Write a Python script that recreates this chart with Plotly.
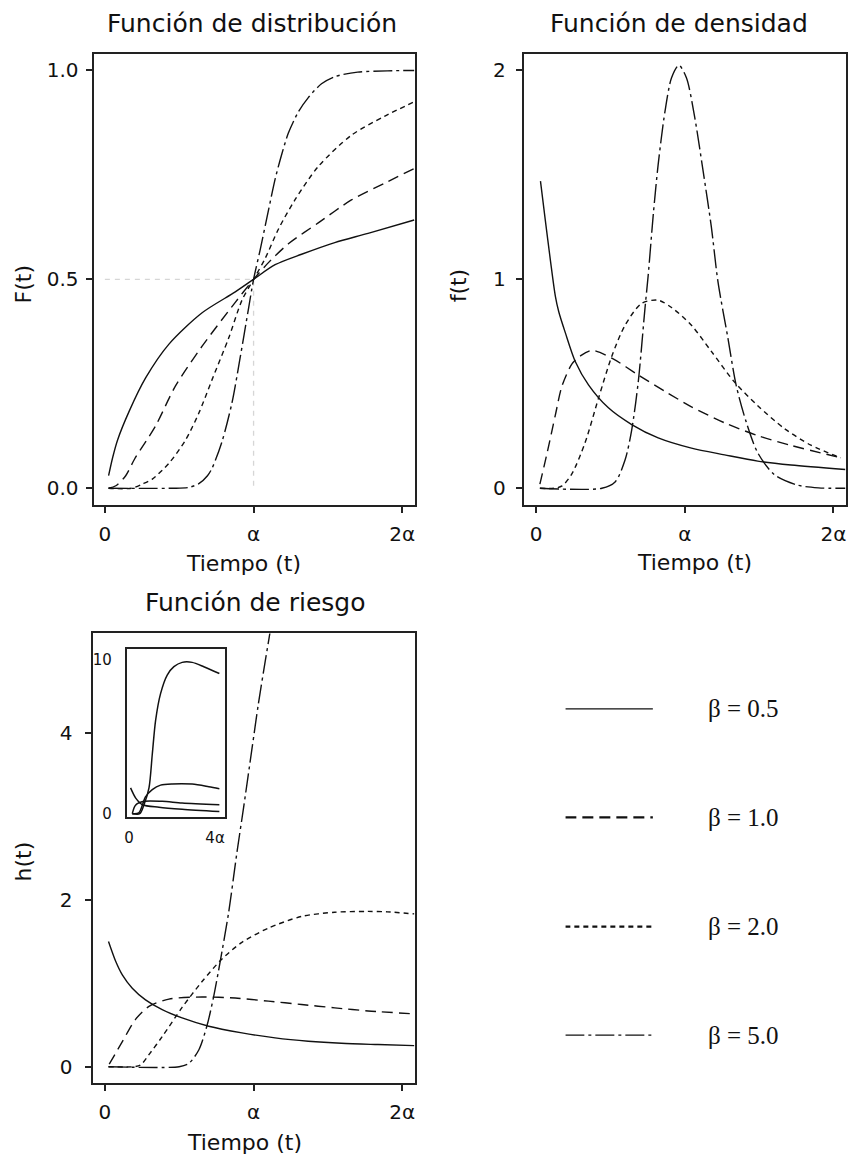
import plotly.graph_objects as go

# ---------------- data ----------------
betas = ["0.5", "1.0", "2.0", "5.0"]
x_tickvals = [0, 1, 2]
x_ticktext = ["0", "α", "2α"]

# Función de distribución F(t)
F_t_b05 = [0.025, 0.052, 0.085, 0.163, 0.274, 0.431, 0.654, 0.877, 1.0, 1.145, 1.323, 1.546, 1.77, 2.08]
F_b05 = [0.03, 0.073, 0.115, 0.184, 0.264, 0.345, 0.42, 0.47, 0.5, 0.535, 0.56, 0.588, 0.61, 0.642]
F_t_b1 = [0.025, 0.074, 0.14, 0.2, 0.342, 0.475, 0.654, 0.877, 1.0, 1.1, 1.234, 1.435, 1.658, 1.88, 2.08]
F_b1 = [0.0, 0.006, 0.03, 0.07, 0.15, 0.245, 0.34, 0.445, 0.5, 0.54, 0.585, 0.635, 0.69, 0.73, 0.765]
F_t_b2 = [0.025, 0.18, 0.252, 0.319, 0.431, 0.542, 0.632, 0.721, 0.833, 0.922, 1.0, 1.078, 1.167, 1.278, 1.435, 1.658, 1.88, 2.08]
F_b2 = [0.0, 0.0, 0.01, 0.022, 0.06, 0.115, 0.18, 0.26, 0.36, 0.45, 0.5, 0.55, 0.62, 0.69, 0.77, 0.845, 0.89, 0.925]
F_t_b5 = [0.025, 0.45, 0.565, 0.632, 0.69, 0.721, 0.788, 0.855, 0.91, 0.966, 1.0, 1.044, 1.1, 1.145, 1.19, 1.234, 1.30, 1.368, 1.457, 1.546, 1.7, 1.9, 2.08]
F_b5 = [0.0, 0.0, 0.002, 0.011, 0.03, 0.048, 0.112, 0.205, 0.313, 0.43, 0.5, 0.57, 0.665, 0.74, 0.8, 0.85, 0.9, 0.935, 0.968, 0.985, 0.996, 0.999, 1.0]
ref_x = [0.0, 1.0, 1.0]
ref_y = [0.5, 0.5, 0.0]

# Función de densidad f(t)
f_t_b05 = [0.029, 0.062, 0.096, 0.129, 0.152, 0.196, 0.263, 0.352, 0.486, 0.643, 0.821, 1.045, 1.268, 1.491, 1.715, 2.08]
f_b05 = [1.47, 1.28, 1.09, 0.92, 0.845, 0.745, 0.607, 0.495, 0.385, 0.305, 0.241, 0.192, 0.16, 0.13, 0.111, 0.09]
f_t_b1 = [0.025, 0.074, 0.129, 0.174, 0.241, 0.3, 0.375, 0.509, 0.687, 0.866, 1.045, 1.268, 1.491, 1.715, 2.05]
f_b1 = [0.02, 0.17, 0.35, 0.49, 0.595, 0.635, 0.66, 0.623, 0.542, 0.464, 0.39, 0.313, 0.252, 0.205, 0.146]
f_t_b2 = [0.025, 0.12, 0.174, 0.241, 0.33, 0.419, 0.509, 0.598, 0.71, 0.821, 0.911, 1.045, 1.179, 1.335, 1.491, 1.67, 1.849, 2.05]
f_b2 = [0.0, 0.0, 0.011, 0.07, 0.22, 0.43, 0.632, 0.78, 0.885, 0.9, 0.865, 0.78, 0.655, 0.508, 0.395, 0.286, 0.206, 0.146]
f_t_b5 = [0.025, 0.442, 0.531, 0.598, 0.643, 0.687, 0.732, 0.754, 0.788, 0.821, 0.866, 0.911, 0.96, 1.011, 1.067, 1.123, 1.179, 1.223, 1.29, 1.346, 1.413, 1.491, 1.603, 1.759, 1.9, 2.08]
f_b5 = [0.0, 0.0, 0.03, 0.135, 0.28, 0.51, 0.86, 1.02, 1.31, 1.55, 1.8, 1.965, 2.025, 1.965, 1.775, 1.52, 1.25, 0.99, 0.72, 0.492, 0.318, 0.17, 0.065, 0.015, 0.002, 0.0]

# Función de riesgo h(t)
h_t_b05 = [0.025, 0.074, 0.118, 0.185, 0.274, 0.386, 0.52, 0.699, 0.922, 1.145, 1.368, 1.591, 1.837, 2.08]
h_b05 = [1.5, 1.26, 1.1, 0.94, 0.8, 0.683, 0.584, 0.484, 0.405, 0.345, 0.305, 0.28, 0.265, 0.252]
h_t_b1 = [0.03, 0.118, 0.208, 0.297, 0.431, 0.654, 0.877, 1.1, 1.323, 1.546, 1.77, 2.08]
h_b1 = [0.03, 0.3, 0.57, 0.722, 0.81, 0.835, 0.822, 0.785, 0.745, 0.705, 0.668, 0.633]
h_t_b2 = [0.025, 0.2, 0.241, 0.297, 0.386, 0.52, 0.654, 0.788, 0.922, 1.1, 1.323, 1.546, 1.77, 1.9, 2.08]
h_b2 = [0.0, 0.0, 0.02, 0.145, 0.36, 0.71, 1.02, 1.29, 1.49, 1.66, 1.8, 1.85, 1.86, 1.855, 1.83]
h_t_b5 = [0.025, 0.5, 0.565, 0.632, 0.687, 0.732, 0.777, 0.833, 0.888, 0.933, 0.989, 1.033, 1.078, 1.118, 1.14]
h_b5 = [0.0, 0.0, 0.04, 0.2, 0.49, 0.84, 1.27, 1.85, 2.56, 3.1, 3.8, 4.35, 4.85, 5.28, 5.55]

# Inset: h(t) on 0..4α
ins_tickvals_x = [0, 4]
ins_ticktext_x = ["0", "4α"]
ins_tickvals_y = [0, 10]
ins_t_b05 = [0.07, 0.31, 0.62, 1.39, 2.47, 4.2]
ins_h_b05 = [1.67, 1.01, 0.58, 0.42, 0.29, 0.14]
ins_t_b1 = [0.15, 0.3, 0.695, 1.54, 2.47, 4.2]
ins_h_b1 = [0.0, 0.55, 0.8, 0.8, 0.69, 0.58]
ins_t_b2 = [0.15, 0.45, 0.77, 1.08, 1.465, 2.007, 2.934, 3.708, 4.2]
ins_h_b2 = [0.0, 0.05, 1.1, 1.56, 1.85, 1.93, 1.92, 1.75, 1.62]
ins_t_b5 = [0.15, 0.5, 0.695, 0.927, 1.08, 1.233, 1.465, 1.775, 2.086, 2.47, 2.934, 3.476, 4.2]
ins_h_b5 = [0.0, 0.0, 0.58, 1.67, 3.85, 6.03, 7.78, 8.98, 9.52, 9.8, 9.8, 9.52, 9.08]

# ---------------- styling ----------------
W, H = 850, 1165
def px(X):
    return X / W
def py(Y):
    return 1 - Y / H

FONT = "DejaVu Sans"
INK = "#111111"
dashes = {"0.5": "solid", "1.0": "11px,6px", "2.0": "5px,4px", "5.0": "19px,4px,3px,4px"}
LW = 1.4

fig = go.Figure()

def add_line(x, y, beta, xa, ya, dash=None, color=INK, width=LW):
    fig.add_trace(go.Scatter(
        x=x, y=y, mode="lines", xaxis=xa, yaxis=ya, showlegend=False,
        hoverinfo="skip",
        line=dict(color=color, width=width, dash=dash if dash else dashes[beta],
                  shape="spline", smoothing=0.8)))

# panel 1
fig.add_trace(go.Scatter(x=ref_x, y=ref_y, mode="lines", xaxis="x", yaxis="y",
                         showlegend=False, hoverinfo="skip",
                         line=dict(color="#d6d6d6", width=1.3, dash="5px,5px")))
for b, xs, ys in zip(betas, [F_t_b05, F_t_b1, F_t_b2, F_t_b5], [F_b05, F_b1, F_b2, F_b5]):
    add_line(xs, ys, b, "x", "y")
# panel 2
for b, xs, ys in zip(betas, [f_t_b05, f_t_b1, f_t_b2, f_t_b5], [f_b05, f_b1, f_b2, f_b5]):
    add_line(xs, ys, b, "x2", "y2")
# panel 3
for b, xs, ys in zip(betas, [h_t_b05, h_t_b1, h_t_b2, h_t_b5], [h_b05, h_b1, h_b2, h_b5]):
    add_line(xs, ys, b, "x3", "y3")
# inset
for b, xs, ys in zip(betas, [ins_t_b05, ins_t_b1, ins_t_b2, ins_t_b5], [ins_h_b05, ins_h_b1, ins_h_b2, ins_h_b5]):
    add_line(xs, ys, b, "x4", "y4", dash="solid", width=1.5)
# legend panel
for i, b in enumerate(betas):
    fig.add_trace(go.Scatter(x=[0, 1], y=[i, i], mode="lines", xaxis="x5", yaxis="y5",
                             showlegend=False, hoverinfo="skip",
                             line=dict(color="#111111", width=2.2, dash=dashes[b])))

axis_common = dict(showline=True, mirror=True, linecolor="#222222", linewidth=2,
                   ticks="outside", ticklen=6, tickwidth=1.5, tickcolor="#222222",
                   showgrid=False, zeroline=False,
                   tickfont=dict(family=FONT, size=20, color=INK))

fig.update_layout(
    width=W, height=H, margin=dict(l=0, r=0, t=0, b=0),
    paper_bgcolor="white", plot_bgcolor="white",
    xaxis=dict(domain=[px(91), px(414)], range=[-0.076, 2.086], anchor="y",
               tickvals=x_tickvals, ticktext=x_ticktext, ticklabelstandoff=4, **axis_common),
    yaxis=dict(domain=[py(508), py(54)], range=[-0.041, 1.04], anchor="x",
               tickvals=[0, 0.5, 1.0], ticktext=["0.0", "0.5", "1.0"], ticklabelstandoff=3, **axis_common),
    xaxis2=dict(domain=[px(523.3), px(846.7)], range=[-0.083, 2.083], anchor="y2",
                tickvals=x_tickvals, ticktext=x_ticktext, ticklabelstandoff=4, **axis_common),
    yaxis2=dict(domain=[py(508), py(54)], range=[-0.082, 2.08], anchor="x2",
                tickvals=[0, 1, 2], ticktext=["0", "1", "2"], ticklabelstandoff=6, **axis_common),
    xaxis3=dict(domain=[px(90), px(414)], range=[-0.082, 2.086], anchor="y3",
                tickvals=x_tickvals, ticktext=x_ticktext, ticklabelstandoff=4, **axis_common),
    yaxis3=dict(domain=[py(1089), py(636.7)], range=[-0.2, 5.19], anchor="x3",
                tickvals=[0, 2, 4], ticktext=["0", "2", "4"], ticklabelstandoff=8, **axis_common),
    xaxis4=dict(domain=[px(124.5), px(223)], range=[-0.1, 4.46], anchor="y4",
                showline=True, mirror=True, linecolor="#222222", linewidth=2,
                ticks="", showgrid=False, zeroline=False,
                tickvals=ins_tickvals_x, ticktext=ins_ticktext_x, ticklabelstandoff=6,
                tickfont=dict(family=FONT, size=15, color=INK)),
    yaxis4=dict(domain=[py(821), py(652)], range=[-0.2, 10.69], anchor="x4",
                showline=True, mirror=True, linecolor="#222222", linewidth=2,
                ticks="", showgrid=False, zeroline=False,
                tickvals=ins_tickvals_y, ticktext=["0", "10"], ticklabelstandoff=10,
                tickfont=dict(family=FONT, size=15, color=INK)),
    xaxis5=dict(domain=[px(565), px(653)], range=[0, 1], anchor="y5", visible=False),
    yaxis5=dict(domain=[py(1041), py(712)], range=[3, 0], anchor="x5", visible=False),
)

ann = []
def text(s, X, Y, size, angle=0, family=FONT, xanchor="center", xref="paper", yref="paper", yval=None):
    ann.append(dict(text=s, x=X, y=(yval if yval is not None else py(Y)), xref=xref, yref=yref,
                    showarrow=False, xanchor=xanchor, yanchor="middle", textangle=angle,
                    font=dict(family=family, size=size, color=INK)))

text("Función de distribución", px(250), 24, 25)
text("Función de densidad", px(679), 24, 25)
text("Función de riesgo", px(253), 606, 25)
text("Tiempo (t)", px(242), 566, 22)
text("Tiempo (t)", px(695), 565, 22)
text("Tiempo (t)", px(243), 1148, 22)
text("F(t)", px(21), 286, 22, angle=-90)
text("f(t)", px(458), 287, 22, angle=-90)
text("h(t)", px(21), 866, 22, angle=-90)
for i, b in enumerate(betas):
    text("β\u00a0=\u00a0" + b, px(706), 0, 25, family="Liberation Serif", xanchor="left",
         yref="y5", yval=i)
fig.update_layout(annotations=ann)

fig.write_html("out.html")
